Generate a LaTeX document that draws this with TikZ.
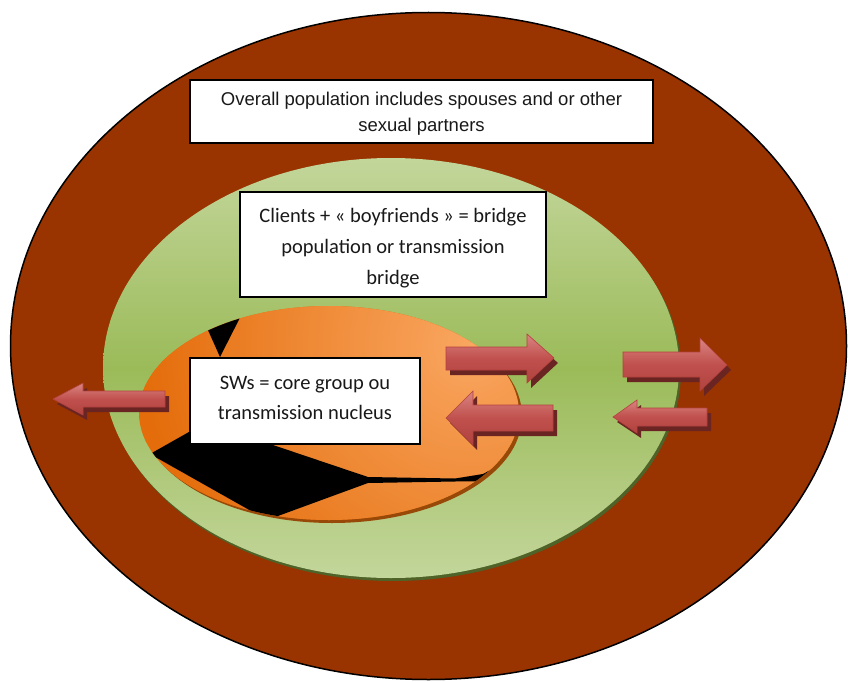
\documentclass[tikz,border=0pt]{standalone}
\usepackage{fontspec}
\setmainfont{Liberation Sans}
\newfontfamily\calib{Carlito}
\definecolor{brownbg}{HTML}{993300}
\definecolor{greenlight}{HTML}{C3D69B}
\definecolor{greenmid}{HTML}{9BBB59}
\definecolor{greenshadow}{HTML}{4F6228}
\definecolor{orangelight}{HTML}{F9A660}
\definecolor{orangedark}{HTML}{E46C0A}
\definecolor{orangeshadow}{HTML}{984807}
\definecolor{arrtop}{HTML}{D98583}
\definecolor{arrmid}{HTML}{C0504D}
\definecolor{arrbot}{HTML}{B0433F}
\definecolor{arredge}{HTML}{B4413E}
\definecolor{arrshadow}{HTML}{6A2523}
\tikzset{
  textbox/.style={draw=black, line width=1.2pt, fill=white, inner sep=0pt},
  boxtext/.style={inner sep=0pt, align=center, text=black!90},
  arrstyle/.style={top color=arrtop, bottom color=arrbot, middle color=arrmid, draw=arredge, line width=0.6pt},
}
\newcommand{\blockarrow}[1]{%
  \fill[arrshadow,shift={(4,5)}] #1 -- cycle;
  \shadedraw[arrstyle] #1 -- cycle;}
\begin{document}
\begin{tikzpicture}[x=1pt,y=-1pt]
\useasboundingbox (0,0) rectangle (848,682);
\fill[white] (0,0) rectangle (848,682);
% outer population
\filldraw[fill=brownbg, draw=black, line width=1.5pt] (428.5,346) ellipse [x radius=418pt, y radius=333.5pt];
% bridge population
\fill[greenshadow] (393,371) ellipse [x radius=288pt, y radius=210pt];
\shade[top color=greenlight, bottom color=greenlight, middle color=greenmid] (391,368) ellipse [x radius=288pt, y radius=210pt];
% core group
\fill[orangeshadow] (332,416) ellipse [x radius=190pt, y radius=107pt];
\begin{scope}
  \clip (329,413) ellipse [x radius=190pt, y radius=107pt];
  \fill[orangedark] (329,413) ellipse [x radius=190pt, y radius=107pt];
  \shade[inner color=orangelight, outer color=orangedark] (470,345) circle (330pt);
  \fill[black] (199,310) -- (249,300) -- (220,357) -- cycle;
  \fill[black] (150,454) -- (196,428) -- (270,444) -- (368,477) -- (455,478.5) -- (483,474) -- (505,462)
     -- (500,481) -- (455,481.5) -- (368,483) -- (267,520) -- cycle;
\end{scope}
% text boxes
\node[textbox, minimum width=463pt, minimum height=63pt] (overall) at (421.5,111.5) {};
\node[boxtext, font=\fontsize{18.5}{26}\selectfont] (overalltext) at ([yshift=-2pt]overall.center)
  {Overall population includes spouses and or other\\sexual partners};
\node[textbox, minimum width=306pt, minimum height=105pt] (bridge) at (393,244.5) {};
\node[boxtext, font=\calib\fontsize{20.5}{31}\selectfont] (bridgetext) at ([yshift=-4pt]bridge.center)
  {Clients + « boyfriends » = bridge\\population or transmission\\bridge};
\node[textbox, minimum width=230pt, minimum height=86pt] (core) at (305,401) {};
\node[boxtext, font=\calib\fontsize{20.5}{30}\selectfont] (coretext) at ([yshift=3pt]core.center)
  {SWs = core group ou\\transmission nucleus};
% block arrows
\blockarrow{(446,347) -- (527,347) -- (527,334) -- (554,358) -- (527,383) -- (527,370) -- (446,370)}
\blockarrow{(446,418) -- (473,391) -- (473,405) -- (553,405) -- (553,431) -- (473,431) -- (473,445)}
\blockarrow{(623,352) -- (700,352) -- (700,338) -- (727,365) -- (700,391) -- (700,377) -- (623,377)}
\blockarrow{(613,417) -- (637,400) -- (637,408) -- (707,408) -- (707,426) -- (637,426) -- (637,433)}
\blockarrow{(53,399) -- (83,383) -- (83,391) -- (165,391) -- (165,407) -- (83,407) -- (83,415)}
\end{tikzpicture}
\end{document}
